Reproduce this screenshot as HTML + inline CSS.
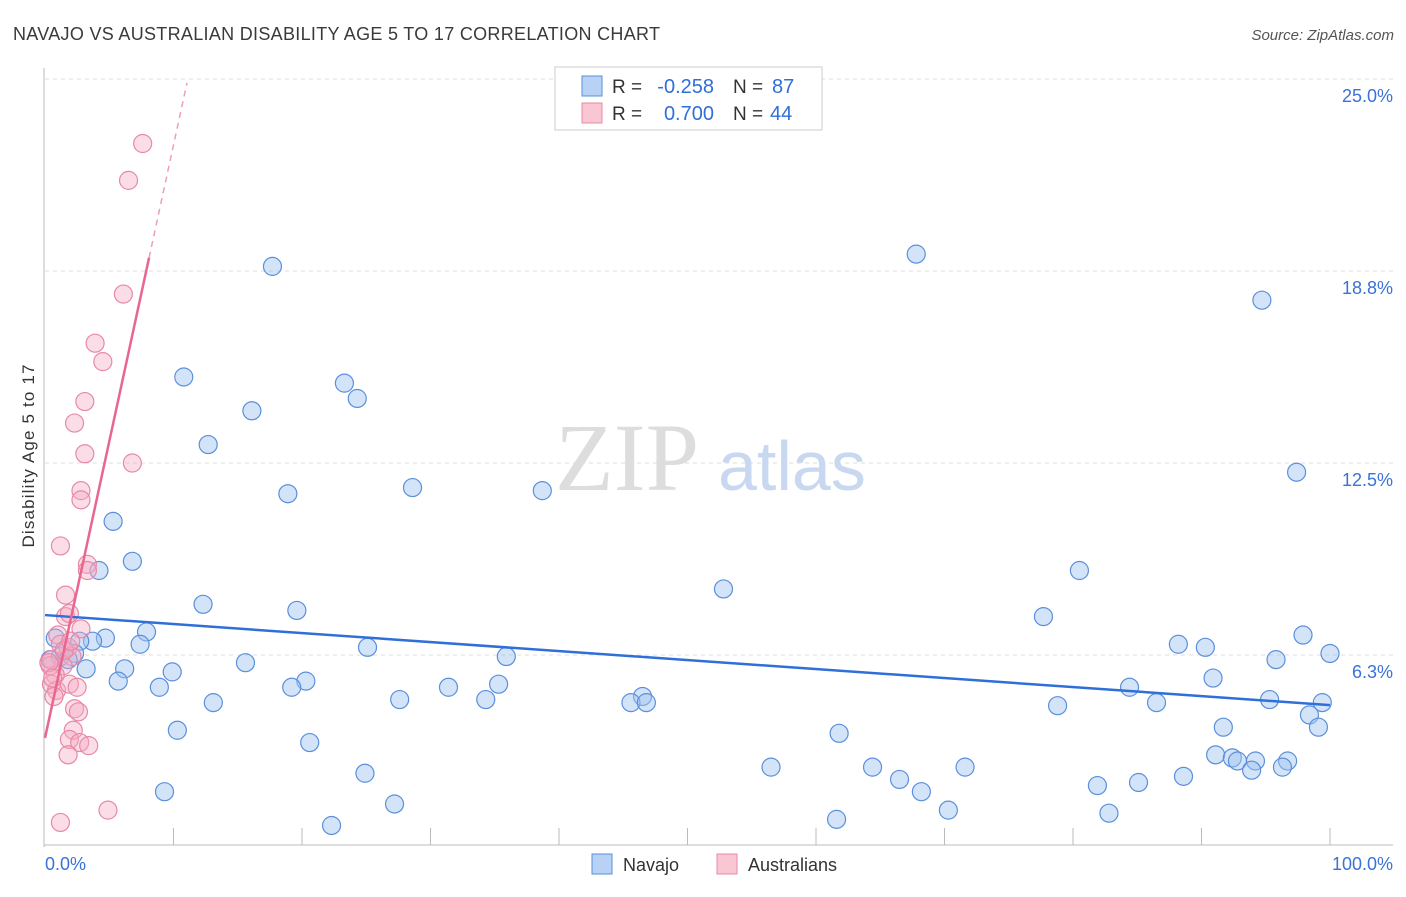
<!DOCTYPE html>
<html><head><meta charset="utf-8"><style>
body{margin:0;background:#fff;font-family:"Liberation Sans",sans-serif}
</style></head><body>
<svg width="1406" height="892" xmlns="http://www.w3.org/2000/svg" font-family="Liberation Sans, sans-serif">
<text x="13" y="40" font-size="18" fill="#3a3a3a" textLength="647" lengthAdjust="spacing">NAVAJO VS AUSTRALIAN DISABILITY AGE 5 TO 17 CORRELATION CHART</text>
<text x="1394" y="40" font-size="15" fill="#555" font-style="italic" text-anchor="end">Source: ZipAtlas.com</text>
<g id="grid"></g>
<text x="555" y="490" font-size="96" fill="#ddd" font-family="Liberation Serif, serif">ZIP</text>
<text x="718" y="490" font-size="70" fill="#c8d8f0">atlas</text>
<line x1="44" y1="68" x2="44" y2="847" stroke="#bbb"/>
<line x1="44" y1="845" x2="1393" y2="845" stroke="#bbb"/>
<text transform="translate(34,456) rotate(-90)" font-size="17" fill="#333" text-anchor="middle" textLength="183" lengthAdjust="spacing">Disability Age 5 to 17</text>
<text x="45" y="870" font-size="18" fill="#3a72d8">0.0%</text>
<text x="1393" y="870" font-size="18" fill="#3a72d8" text-anchor="end">100.0%</text>
<g id="pts"></g>
<g id="lines"></g>
<g>
<rect x="555" y="67" width="267" height="63" fill="#fff" stroke="#ccc"/>
<rect x="582" y="76" width="20" height="20" fill="#b8d2f5" stroke="#5a8fdc"/>
<rect x="582" y="103" width="20" height="20" fill="#f9c6d4" stroke="#e889a6"/>
<text x="612" y="93" font-size="19" fill="#333">R =</text>
<text x="714" y="93" font-size="20" fill="#2f6fd8" text-anchor="end">-0.258</text>
<text x="733" y="93" font-size="19" fill="#333">N =</text>
<text x="772" y="93" font-size="20" fill="#2f6fd8">87</text>
<text x="612" y="120" font-size="19" fill="#333">R =</text>
<text x="714" y="120" font-size="20" fill="#2f6fd8" text-anchor="end">0.700</text>
<text x="733" y="120" font-size="19" fill="#333">N =</text>
<text x="770" y="120" font-size="20" fill="#2f6fd8">44</text>
</g>
<g>
<rect x="592" y="854" width="20" height="20" fill="#b8d2f5" stroke="#5a8fdc"/>
<text x="623" y="871" font-size="18" fill="#333">Navajo</text>
<rect x="717" y="854" width="20" height="20" fill="#f9c6d4" stroke="#e889a6"/>
<text x="748" y="871" font-size="18" fill="#333">Australians</text>
</g>
</svg>
<script>
const yTicks=[6.25,12.5,18.75,25];
const yTickLabels=["6.3%","12.5%","18.8%","25.0%"];
const xTicks=[10,20,30,40,50,60,70,80,90,100];
const navajoX=[17.7,67.8,94.7,10.8,23.3,24.3,16.1,12.7,18.9,28.6,38.7,97.4,5.3,6.8,4.2,80.5,52.8,12.3,19.6,77.7,7.9,0.8,4.7,7.4,3.7,2.7,97.9,25.1,88.2,90.3,100,95.8,35.9,15.6,2.3,1.2,1.8,3.2,6.2,9.9,5.7,8.9,20.3,19.2,31.4,35.3,90.9,84.4,27.6,34.3,46.5,45.6,46.8,13.1,78.8,86.5,95.3,99.4,98.4,91.7,99.1,10.3,61.8,20.6,91.1,92.4,92.8,94.2,93.9,96.7,96.3,56.5,64.4,71.6,66.5,88.6,85.1,81.9,24.9,68.2,9.3,27.2,70.3,82.8,61.6,22.3,0.4];
const navajoY=[18.9,19.3,17.8,15.3,15.1,14.6,14.2,13.1,11.5,11.7,11.6,12.2,10.6,9.3,9.0,9.0,8.4,7.9,7.7,7.5,7.0,6.8,6.8,6.6,6.7,6.7,6.9,6.5,6.6,6.5,6.3,6.1,6.2,6.0,6.3,6.2,6.1,5.8,5.8,5.7,5.4,5.2,5.4,5.2,5.2,5.3,5.5,5.2,4.8,4.8,4.9,4.7,4.7,4.7,4.6,4.7,4.8,4.7,4.3,3.9,3.9,3.8,3.7,3.4,3.0,2.9,2.8,2.8,2.5,2.8,2.6,2.6,2.6,2.6,2.2,2.3,2.1,2.0,2.4,1.8,1.8,1.4,1.2,1.1,0.9,0.7,6.1];
const ausX=[7.6,6.5,6.1,3.9,4.5,3.1,2.3,3.1,6.8,2.8,2.8,1.2,3.3,3.3,1.6,1.6,1.9,2.8,1.0,1.2,1.8,2.1,0.5,1.4,0.8,0.5,0.9,0.7,1.9,2.5,2.3,2.6,2.2,1.9,2.7,3.4,1.8,4.9,1.2,0.4,0.3,1.5,0.6,2.0];
const ausY=[22.9,21.7,18.0,16.4,15.8,14.5,13.8,12.8,12.5,11.6,11.3,9.8,9.2,9.0,8.2,7.5,7.6,7.1,6.9,6.6,6.5,6.2,6.1,5.9,5.6,5.3,5.1,4.9,5.3,5.2,4.5,4.4,3.8,3.5,3.4,3.3,3.0,1.2,0.8,5.9,6.0,6.4,5.5,6.7];
const navajoFit=[7.55,-0.0293]; // intercept, slope
const ausFit=[3.55,1.93];
const ausSolidEnd=8.1, ausDashEnd=11.05;
const X=v=>45+v*12.85, Y=v=>847-v*30.72;
const NS="http://www.w3.org/2000/svg";
function mk(t,a,p){const e=document.createElementNS(NS,t);for(const k in a)e.setAttribute(k,a[k]);p.appendChild(e);return e;}
const grid=document.getElementById('grid');
yTicks.forEach((t,i)=>{
 const l=mk('line',{x1:45,x2:1393,y1:Y(t),y2:Y(t),stroke:'#ddd','stroke-dasharray':'4,4'},grid);
 
 
 const tx=mk('text',{x:1393,y:Y(t)+23,'font-size':18,fill:'#3a72d8','text-anchor':'end'},grid);
 tx.textContent=yTickLabels[i];
 
 
});
xTicks.forEach(t=>{
 const l=mk('line',{x1:X(t),x2:X(t),y1:828,y2:845,stroke:'#bbb'},grid);
 
 
});
const pts=document.getElementById('pts');
navajoX.forEach((x,i)=>{
 const c=mk('circle',{cx:X(x),cy:Y(navajoY[i]),r:9,fill:'rgba(160,195,240,0.45)',stroke:'#5a8fdc','stroke-width':1.2},pts);
 
 
});
ausX.forEach((x,i)=>{
 const c=mk('circle',{cx:X(x),cy:Y(ausY[i]),r:9,fill:'rgba(245,170,195,0.4)',stroke:'#e889a6','stroke-width':1.2},pts);
 
 
});
const lines=document.getElementById('lines');
let l1=mk('line',{x1:X(0),y1:Y(navajoFit[0]),x2:X(100),y2:Y(navajoFit[0]+100*navajoFit[1]),stroke:'#2f6fd8','stroke-width':2.5},lines);


let l2=mk('line',{x1:X(0),y1:Y(ausFit[0]),x2:X(ausSolidEnd),y2:Y(ausFit[0]+ausSolidEnd*ausFit[1]),stroke:'#e8668f','stroke-width':2.5},lines);


let l3=mk('line',{x1:X(ausSolidEnd),y1:Y(ausFit[0]+ausSolidEnd*ausFit[1]),x2:X(ausDashEnd),y2:Y(ausFit[0]+ausDashEnd*ausFit[1]),stroke:'#eba0b8','stroke-width':1.5,'stroke-dasharray':'6,5'},lines);


</script>
</body></html>
